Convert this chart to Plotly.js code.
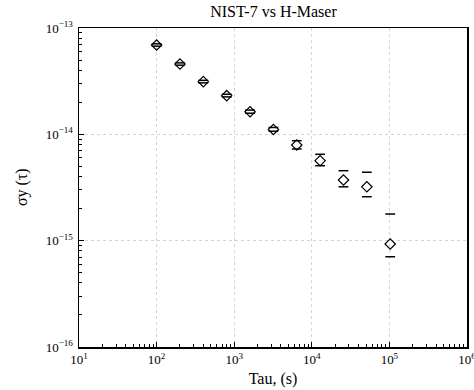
<!DOCTYPE html>
<html>
<head>
<meta charset="utf-8">
<script src="https://cdn.plot.ly/plotly-3.0.1.min.js"></script>
<style>html,body{margin:0;padding:0;background:#fff;}#chart{width:474px;height:390px;}</style>
</head>
<body>
<div id="chart"></div>
<script>
const tau = [100, 200, 400, 800, 1600, 3200, 6400, 12800, 25600, 51200, 102400];
const sigma = [6.92e-14, 4.58e-14, 3.13e-14, 2.31e-14, 1.63e-14, 1.11e-14, 7.94e-15, 5.65e-15, 3.72e-15, 3.21e-15, 9.31e-16];
const upper = [7.1e-14, 4.7e-14, 3.22e-14, 2.38e-14, 1.69e-14, 1.16e-14, 8.71e-15, 6.49e-15, 4.55e-15, 4.40e-15, 1.78e-15];
const lower = [6.75e-14, 4.47e-14, 3.05e-14, 2.25e-14, 1.58e-14, 1.07e-14, 7.28e-15, 5.07e-15, 3.21e-15, 2.59e-15, 7.06e-16];

const xTickVals = [1e1, 1e2, 1e3, 1e4, 1e5, 1e6];
const xTickText = ['10<sup>1</sup>', '10<sup>2</sup>', '10<sup>3</sup>', '10<sup>4</sup>', '10<sup>5</sup>', '10<sup>6</sup>'];
const yTickVals = [1e-16, 1e-15, 1e-14, 1e-13];
const yTickText = ['10<sup>−16</sup>', '10<sup>−15</sup>', '10<sup>−14</sup>', '10<sup>−13</sup>'];

const serif = "Liberation Serif, DejaVu Serif, serif";

const traces = [
  {x: tau, y: upper, mode: 'markers', type: 'scatter', showlegend: false,
   marker: {symbol: 'line-ew-open', size: 7, color: '#000', line: {color: '#000', width: 1.5}}},
  {x: tau, y: lower, mode: 'markers', type: 'scatter', showlegend: false,
   marker: {symbol: 'line-ew-open', size: 7, color: '#000', line: {color: '#000', width: 1.5}}},
  {x: tau, y: sigma, mode: 'markers', type: 'scatter', showlegend: false,
   marker: {symbol: 'diamond-open', size: 8, color: '#000', line: {color: '#000', width: 1.2}}}
];

const axisCommon = {
  type: 'log', tickmode: 'array', ticklabeloverflow: 'allow',
  ticks: 'inside', ticklen: 5, tickwidth: 1, tickcolor: '#000',
  minor: {ticks: 'inside', ticklen: 3, tickcolor: '#000', showgrid: false, dtick: 'D1'},
  showline: true, linecolor: '#000', linewidth: 1.5, mirror: true,
  showgrid: true, gridcolor: '#d4d4d4', griddash: 'dot', gridwidth: 1,
  zeroline: false,
  tickfont: {family: serif, size: 13, color: '#000'}
};

const layout = {
  width: 474, height: 390,
  margin: {l: 79, r: 7, t: 28, b: 43},
  paper_bgcolor: '#fff', plot_bgcolor: '#fff',
  title: {text: 'NIST-7 vs H-Maser', font: {family: serif, size: 16, color: '#000'},
          x: 0.577, xanchor: 'center', y: 0.97, yanchor: 'middle'},
  xaxis: Object.assign({}, axisCommon, {range: [1, 6], tickvals: xTickVals, ticktext: xTickText,
    title: {text: 'Tau, (s)', font: {family: serif, size: 16, color: '#000'}, standoff: 6}}),
  yaxis: Object.assign({}, axisCommon, {range: [-16, -13], tickvals: yTickVals, ticktext: yTickText,
    ticklabelstandoff: 2}),
  annotations: [{
    text: 'σy (τ)', xref: 'paper', yref: 'paper', x: -0.148, y: 0.5,
    xanchor: 'center', yanchor: 'middle', textangle: -90, showarrow: false,
    font: {family: serif, size: 16, color: '#000'}
  }],
  showlegend: false
};

Plotly.newPlot('chart', traces, layout, {displayModeBar: false, staticPlot: true});
</script>
</body>
</html>
